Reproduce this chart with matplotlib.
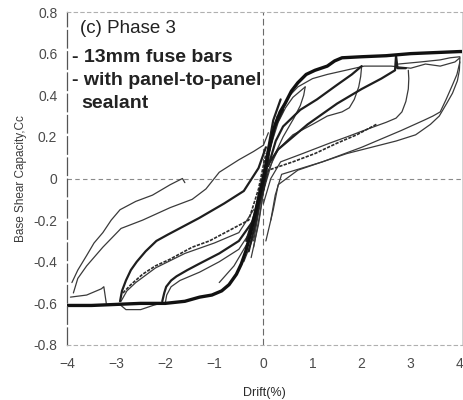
import matplotlib
matplotlib.use('Agg')
import matplotlib.pyplot as plt

# Drift (%) / base shear capacity pairs, one list per branch of the record

# backbone (first excursions), drawn heavy
env_pos = [(0, 0), (0.05, 0.06), (0.1, 0.13), (0.17, 0.2), (0.24, 0.26), (0.34, 0.32),
           (0.44, 0.36), (0.57, 0.42), (0.7, 0.46), (0.87, 0.5), (1.05, 0.52), (1.3, 0.54),
           (1.45, 0.565), (1.6, 0.58), (2.0, 0.585), (2.5, 0.59), (3.0, 0.6), (3.5, 0.605),
           (4.0, 0.61), (4.1, 0.61)]
env_neg = [(0, 0), (-0.1, -0.1), (-0.2, -0.2), (-0.28, -0.28), (-0.36, -0.35), (-0.45, -0.41),
           (-0.55, -0.46), (-0.7, -0.51), (-0.85, -0.54), (-1.05, -0.56), (-1.3, -0.57),
           (-1.6, -0.59), (-2.0, -0.6), (-2.5, -0.6), (-3.0, -0.605), (-3.5, -0.61), (-4.0, -0.61)]

# +/-1% cycles
c1_load = [(-0.05, -0.05), (0.1, 0.12), (0.3, 0.27), (0.45, 0.34), (0.6, 0.39), (0.75, 0.42),
           (0.85, 0.44)]
c1_unload = [(0.85, 0.44), (0.82, 0.4), (0.75, 0.35), (0.62, 0.29), (0.4, 0.2), (0.2, 0.1),
             (0.05, -0.02), (-0.1, -0.15), (-0.3, -0.3), (-0.6, -0.42), (-0.9, -0.5)]

# +/-2% cycles
c2_load = [(0.1, 0.06), (0.25, 0.18), (0.4, 0.25), (0.75, 0.33), (1.09, 0.38), (1.5, 0.45),
           (1.8, 0.5), (2.0, 0.54)]
c2_unload = [(2.0, 0.54), (1.98, 0.49), (1.94, 0.44), (1.85, 0.38), (1.75, 0.34), (1.6, 0.32),
             (1.3, 0.3), (1.0, 0.26), (0.6, 0.21), (0.3, 0.14), (0.1, 0.04), (-0.05, -0.1),
             (-0.2, -0.3)]
c2_neg_unload = [(-2.06, -0.59), (-2.02, -0.55), (-1.98, -0.52), (-1.88, -0.49), (-1.77, -0.47),
                 (-1.55, -0.44), (-1.31, -0.41), (-0.9, -0.36), (-0.5, -0.3), (-0.2, -0.2),
                 (0.0, -0.05), (0.1, 0.1)]
c2_neg_unload_b = [(-2.0, -0.6), (-1.97, -0.56), (-1.88, -0.52), (-1.7, -0.49), (-1.3, -0.45),
                   (-0.9, -0.4), (-0.5, -0.34), (-0.25, -0.25), (-0.05, -0.1)]

# +/-3% cycles
c3_load = [(0.05, 0.05), (0.3, 0.14), (0.6, 0.2), (0.9, 0.26), (1.2, 0.31), (1.5, 0.36),
           (2.0, 0.43), (2.4, 0.48), (2.68, 0.52), (2.7, 0.59), (2.73, 0.53), (2.9, 0.53)]
c3_unload = [(2.95, 0.52), (2.96, 0.48), (2.95, 0.43), (2.9, 0.37), (2.82, 0.32), (2.7, 0.29),
             (2.5, 0.27), (2.15, 0.24), (1.7, 0.2), (1.35, 0.17), (0.8, 0.12), (0.35, 0.08),
             (0.15, 0.0), (0.0, -0.12)]
c3_unload_b = [(2.3, 0.26), (1.9, 0.21), (1.5, 0.17), (1.05, 0.12), (0.6, 0.08), (0.1, 0.04),
               (-0.05, -0.1)]
c3_neg_unload = [(-2.92, -0.59), (-2.88, -0.54), (-2.8, -0.49), (-2.7, -0.44), (-2.58, -0.4),
                 (-2.4, -0.35), (-2.18, -0.3), (-1.95, -0.27), (-1.71, -0.24), (-1.31, -0.19),
                 (-0.8, -0.12), (-0.4, -0.06), (-0.1, 0.05), (0.05, 0.15)]
c3_neg_unload_b = [(-2.86, -0.55), (-2.7, -0.51), (-2.46, -0.46), (-2.2, -0.42), (-1.92, -0.39),
                   (-1.45, -0.33), (-1.1, -0.3), (-0.7, -0.25), (-0.3, -0.2), (-0.1, -0.05),
                   (0.05, 0.12)]
c3_neg_unload_c = [(-2.9, -0.59), (-2.78, -0.54), (-2.6, -0.5), (-2.2, -0.43), (-1.6, -0.36),
                   (-1.0, -0.31), (-0.5, -0.26), (-0.2, -0.15)]
c3_bump = [(-2.95, -0.6), (-2.8, -0.63), (-2.5, -0.63), (-2.25, -0.61), (-2.1, -0.6)]

# +/-4% cycles
c4_load = [(0.3, 0.3), (0.5, 0.39), (0.7, 0.44), (1.0, 0.48), (1.3, 0.5), (2.05, 0.54),
           (2.6, 0.54), (3.0, 0.53), (3.3, 0.55), (3.6, 0.54), (3.9, 0.56), (4.0, 0.58)]
c4_load_b = [(2.75, 0.55), (3.2, 0.56), (3.6, 0.57), (3.8, 0.58), (4.0, 0.585)]
c4_unload = [(4.0, 0.58), (3.99, 0.52), (3.95, 0.47), (3.85, 0.41), (3.73, 0.36), (3.58, 0.3),
             (3.4, 0.26), (3.1, 0.21), (2.7, 0.18), (1.7, 0.12), (0.7, 0.04), (0.3, -0.03),
             (0.2, -0.15), (0.05, -0.3)]
c4_unload_b = [(4.0, 0.56), (3.94, 0.5), (3.85, 0.45), (3.72, 0.38), (3.6, 0.32), (3.45, 0.3),
               (3.27, 0.28), (2.8, 0.23), (2.0, 0.15), (1.2, 0.08), (0.37, 0.02), (0.24, -0.08),
               (0.15, -0.2)]
c4_neg_unload = [(-3.9, -0.5), (-3.78, -0.44), (-3.6, -0.37), (-3.45, -0.31), (-3.27, -0.26),
                 (-3.1, -0.2), (-2.92, -0.15), (-2.6, -0.11), (-2.26, -0.08), (-1.9, -0.03),
                 (-1.65, 0.0), (-1.6, -0.02)]
c4_neg_unload_b = [(-3.87, -0.55), (-3.78, -0.48), (-3.6, -0.42), (-3.27, -0.33), (-2.9, -0.24),
                   (-2.46, -0.2), (-1.9, -0.14), (-1.45, -0.1), (-1.17, -0.05), (-0.9, 0.03),
                   (-0.5, 0.09), (-0.2, 0.13), (0.0, 0.16), (0.1, 0.22)]
c4_neg_foot = [(-3.93, -0.57), (-3.6, -0.56), (-3.3, -0.53), (-3.25, -0.52), (-3.2, -0.6)]

# steep band through the origin
core_a = [(-0.3, -0.35), (-0.15, -0.2), (0.0, 0.0), (0.1, 0.15), (0.2, 0.28), (0.35, 0.38)]
core_b = [(-0.25, -0.38), (-0.1, -0.22), (0.03, -0.02), (0.12, 0.12), (0.25, 0.25), (0.45, 0.36)]
core_c = [(-0.4, -0.4), (-0.2, -0.28), (-0.05, -0.08), (0.05, 0.08), (0.18, 0.22), (0.3, 0.3)]
core_d = [(-0.35, -0.3), (-0.18, -0.17), (-0.04, -0.02), (0.08, 0.1), (0.22, 0.24), (0.4, 0.33)]
core_e = [(-0.2, -0.33), (-0.08, -0.18), (0.05, 0.02), (0.15, 0.17), (0.28, 0.3)]

x_ticks = [-4, -3, -2, -1, 0, 1, 2, 3, 4]
y_ticks = [-0.8, -0.6, -0.4, -0.2, 0, 0.2, 0.4, 0.6, 0.8]
y_tick_labels = ['-0.8', '-0.6', '-0.4', '-0.2', '0', '0.2', '0.4', '0.6', '0.8']


def draw(ax, pts, lw, color='#2a2a2a', ls='-'):
    xs = [p[0] for p in pts]
    ys = [p[1] for p in pts]
    ax.plot(xs, ys, color=color, lw=lw, ls=ls, solid_joinstyle='round', solid_capstyle='round')


plt.rcParams['font.family'] = ['Liberation Sans', 'DejaVu Sans']
fig = plt.figure(figsize=(4.64, 4.0), dpi=100)
ax = fig.add_axes([0.1444, 0.1375, 0.852, 0.8325])

# reference lines through zero
ax.axhline(0, color='#8a8a8a', lw=0.8, ls=(0, (4, 3)), zorder=0)
ax.axvline(0, color='#6a6a6a', lw=0.8, ls=(0, (6, 3)), zorder=0)

thin = [c1_load, c1_unload, c2_unload, c3_unload, c3_bump, c4_load, c4_load_b,
        c4_unload, c4_unload_b, c4_neg_unload, c4_neg_unload_b, c4_neg_foot,
        c2_neg_unload_b, c3_neg_unload_c, core_b, core_c, core_e]
for pts in thin:
    draw(ax, pts, 0.9, color='#3a3a3a')

draw(ax, c3_unload_b, 1.2, ls=(0, (2, 0.8)))
draw(ax, c3_neg_unload_b, 1.2, ls=(0, (2, 0.8)))

medium = [c2_load, c3_load, c2_neg_unload, c3_neg_unload, core_a, core_d]
for pts in medium:
    draw(ax, pts, 1.6, color='#1e1e1e')

draw(ax, env_pos, 2.4, color='#111111')
draw(ax, env_neg, 2.4, color='#111111')

ax.set_xlim(-4, 4.05)
ax.set_ylim(-0.8, 0.8)
ax.set_xticks(x_ticks)
ax.set_yticks(y_ticks)
ax.set_yticklabels(y_tick_labels)
ax.tick_params(length=0, labelsize=10, labelcolor='#4a4a4a')
ax.tick_params(axis='x', pad=9)
ax.tick_params(axis='y', pad=7)

for side in ['top', 'bottom']:
    ax.spines[side].set_linestyle((0, (3, 3)))
    ax.spines[side].set_color('#b0b0b0')
    ax.spines[side].set_linewidth(0.8)
ax.spines['left'].set_linestyle((0, (14, 3)))
ax.spines['left'].set_color('#555555')
ax.spines['left'].set_linewidth(0.9)
ax.spines['right'].set_color('#cccccc')
ax.spines['right'].set_linewidth(0.6)

ax.set_xlabel('Drift(%)', fontsize=9, color='#2a2a2a')
ax.xaxis.set_label_coords(0.5, -0.125)
ax.set_ylabel('Base Shear Capacity,Cc', fontsize=8.5, color='#3a3a3a')
ax.yaxis.set_label_coords(-0.10, 0.5)

ax.text(-3.73, 0.72, '(c) Phase 3', fontsize=13.5, color='#222222', va='center')
ax.text(-3.9, 0.58, '- 13mm fuse bars', fontsize=14, fontweight='bold', color='#222222', va='center')
ax.text(-3.9, 0.47, '- with panel-to-panel', fontsize=14, fontweight='bold', color='#222222',
        va='center')
ax.text(-3.7, 0.36, 'sealant', fontsize=14, fontweight='bold', color='#222222', va='center')

fig.savefig('out.png', dpi=100, facecolor='white')
